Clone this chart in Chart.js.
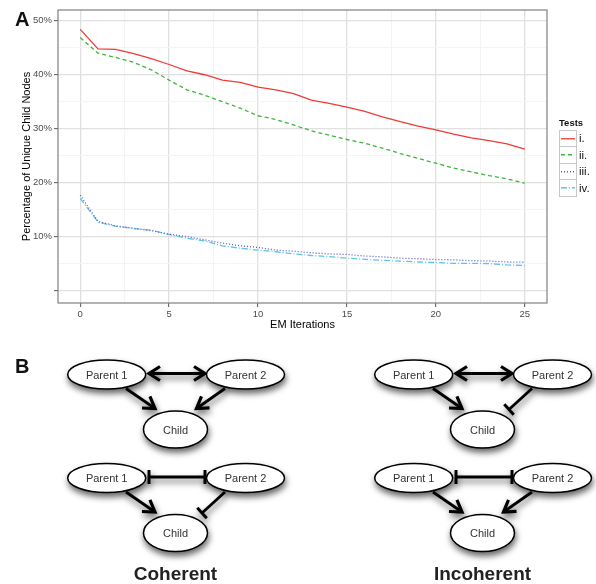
<!DOCTYPE html>
<html>
<head>
<meta charset="utf-8">
<script src="https://cdn.jsdelivr.net/npm/chart.js@4.4.1/dist/chart.umd.min.js"></script>
<style>
body{margin:0;background:#fff;font-family:"Liberation Sans",Arial,sans-serif;}
#page{position:relative;width:596px;height:584px;overflow:hidden;}
#chartBox{position:absolute;left:0;top:0;width:596px;height:340px;}
.panel{position:absolute;left:15px;font-weight:bold;font-size:20px;line-height:20px;color:#111;}
#legend{position:absolute;left:559px;top:116px;}
#legend .ttl{font-weight:bold;font-size:9.5px;height:14px;line-height:14px;color:#111;}
#legend .row{height:16.5px;display:flex;align-items:center;}
#legend .key{width:16px;height:15.5px;border:1px solid #c8c8c8;box-sizing:content-box;}
#legend .lab{font-size:11.5px;margin-left:2px;color:#111;}
#diagram{position:absolute;left:0;top:340px;}
</style>
</head>
<body>
<div id="page">
  <div id="chartBox"><canvas id="emChart" width="596" height="340"></canvas></div>
  <div class="panel" style="top:9px;">A</div>
  <div id="legend"></div>
  <div class="panel" style="top:356px;">B</div>
  <svg id="diagram" width="596" height="244" viewBox="0 340 596 244"></svg>
</div>
<script>
const FONT = '"Liberation Sans", Arial, sans-serif';

/* DATA */
const iterations = [0,1,2,3,4,5,6,7,8,9,10,11,12,13,14,15,16,17,18,19,20,21,22,23,24,25];
const testI   = [48.4,44.8,44.7,43.9,43.0,41.9,40.7,40.0,39.0,38.6,37.7,37.2,36.5,35.3,34.7,34.0,33.2,32.2,31.3,30.5,29.8,29.0,28.3,27.8,27.2,26.2];
const testII  = [46.9,44.0,43.2,42.3,40.9,39.0,37.2,36.2,35.0,33.8,32.4,31.7,30.7,29.6,28.8,28.0,27.3,26.4,25.4,24.5,23.6,22.7,22.0,21.3,20.7,19.9];
const testIII = [17.7,12.8,12.0,11.55,11.1,10.45,10.0,9.4,8.8,8.3,8.0,7.5,7.3,7.0,6.8,6.7,6.4,6.25,6.0,5.9,5.75,5.7,5.55,5.5,5.3,5.25];
const testIV  = [17.1,12.7,11.9,11.5,11.2,10.4,9.7,9.2,8.3,7.85,7.5,7.2,6.8,6.5,6.3,6.0,5.8,5.6,5.45,5.3,5.2,5.05,5.05,5.0,4.75,4.65];

const seriesNames  = ['i.','ii.','iii.','iv.'];
const seriesValues = [testI, testII, testIII, testIV];
const seriesColors = ['#ee3b36','#3db53d','#5a5ad2','#5cc5e2'];
const seriesDash   = [[], [4,3], [1,2], [6,2,1,2]];

const xTicks = [0,5,10,15,20,25];
const xMinor = [2.5,7.5,12.5,17.5,22.5];
const yTicks = [0,10,20,30,40,50];
const yTickLabels = ['','10%','20%','30%','40%','50%'];
const yMinor = [5,15,25,35,45];

const MAJOR = '#e0e0e0', MINOR = '#f4f4f4';

/* PANEL BORDER */
const panelBorder = {
    id: 'panelBorder',
    afterDatasetsDraw(chart){
        const {ctx, chartArea: a} = chart;
        ctx.save();
        ctx.strokeStyle = '#808080';
        ctx.lineWidth = 1.2;
        ctx.strokeRect(a.left, a.top, a.right - a.left, a.bottom - a.top);
        ctx.restore();
    }
};

function tickList(major, minor){
    return major.concat(minor).sort((p,q) => p - q).map(v => ({value: v}));
}

/* CHART */
new Chart(document.getElementById('emChart'), {
    type: 'line',
    data: {
        datasets: seriesValues.map((vals, i) => ({
            label: seriesNames[i],
            data: vals.map((v, k) => ({x: iterations[k], y: v})),
            borderColor: seriesColors[i],
            borderDash: seriesDash[i],
            borderWidth: 1.3,
            pointRadius: 0,
            tension: 0,
            fill: false
        }))
    },
    options: {
        responsive: false,
        animation: false,
        layout: {padding: {left: 0, top: 10, right: 49, bottom: 0}},
        plugins: {legend: {display: false}, tooltip: {enabled: false}},
        scales: {
            x: {
                type: 'linear', min: -1.25, max: 26.25,
                afterBuildTicks: a => { a.ticks = tickList(xTicks, xMinor); },
                afterFit: a => { a.height = 37; },
                border: {display: false},
                grid: {
                    color: c => xTicks.includes(c.tick.value) ? MAJOR : MINOR,
                    lineWidth: c => xTicks.includes(c.tick.value) ? 1.3 : 1,
                    tickLength: 4,
                    tickWidth: 1,
                    tickColor: c => xTicks.includes(c.tick.value) ? '#555' : 'rgba(0,0,0,0)'
                },
                ticks: {
                    autoSkip: false, maxRotation: 0, padding: 2,
                    color: '#4d4d4d', font: {family: FONT, size: 9.5},
                    callback: v => xTicks.includes(v) ? String(v) : ''
                },
                title: {display: true, text: 'EM Iterations', color: '#000',
                        font: {family: FONT, size: 11}, padding: {top: 0, bottom: 8}}
            },
            y: {
                min: -2.3, max: 52,
                afterBuildTicks: a => { a.ticks = tickList(yTicks, yMinor); },
                afterFit: a => { a.width = 58; },
                border: {display: false},
                grid: {
                    color: c => yTicks.includes(c.tick.value) ? MAJOR : MINOR,
                    lineWidth: c => yTicks.includes(c.tick.value) ? 1.3 : 1,
                    tickLength: 4,
                    tickWidth: 1,
                    tickColor: c => yTicks.includes(c.tick.value) ? '#555' : 'rgba(0,0,0,0)'
                },
                ticks: {
                    autoSkip: false, padding: 2,
                    color: '#4d4d4d', font: {family: FONT, size: 9.5},
                    callback: v => { const k = yTicks.indexOf(v); return k >= 0 ? yTickLabels[k] : ''; }
                },
                title: {display: true, text: 'Percentage of Unique Child Nodes', color: '#000',
                        font: {family: FONT, size: 11}, padding: {top: 20, bottom: 0}}
            }
        }
    },
    plugins: [panelBorder]
});

/* LEGEND */
let html = '<div class="ttl">Tests</div>';
seriesNames.forEach((n, i) => {
    html += `<div class="row"><div class="key"><svg width="16" height="15.5">
        <line x1="1" y1="7.75" x2="15" y2="7.75" stroke="${seriesColors[i]}" stroke-width="1.3"
        stroke-dasharray="${seriesDash[i].join(',') || 'none'}"/></svg></div><span class="lab">${n}</span></div>`;
});
document.getElementById('legend').innerHTML = html;

/* DIAGRAM B */
const NS = 'http://www.w3.org/2000/svg';
const svg = document.getElementById('diagram');

function el(tag, attrs, parent, text){
    const e = document.createElementNS(NS, tag);
    for (const k in attrs) e.setAttribute(k, attrs[k]);
    if (text) e.textContent = text;
    (parent || svg).appendChild(e);
    return e;
}

const defs = el('defs', {});
const flt = el('filter', {id: 'ds', x: '-20%', y: '-20%', width: '140%', height: '170%'}, defs);
el('feDropShadow', {dx: 1, dy: 4, stdDeviation: 3, 'flood-color': '#000', 'flood-opacity': 0.6}, flt);

// head at (x,y) pointing along (ux,uy)
function head(g, x, y, ux, uy, type){
    const px = -uy, py = ux;
    if (type === 'arrow'){
        const L = 11, W = 7;
        el('path', {d: `M${x - ux*L + px*W},${y - uy*L + py*W} L${x},${y} L${x - ux*L - px*W},${y - uy*L - py*W}`,
            fill: 'none', stroke: '#000', 'stroke-width': 3.2, 'stroke-linejoin': 'miter'}, g);
    } else if (type === 'bar'){
        const H = 7;
        el('line', {x1: x + px*H, y1: y + py*H, x2: x - px*H, y2: y - py*H, stroke: '#000', 'stroke-width': 3}, g);
    }
}

function link(g, x1, y1, x2, y2, startHead, endHead){
    const len = Math.hypot(x2 - x1, y2 - y1), ux = (x2 - x1)/len, uy = (y2 - y1)/len;
    el('line', {x1, y1, x2, y2, stroke: '#000', 'stroke-width': 2.8}, g);
    if (startHead) head(g, x1, y1, -ux, -uy, startHead);
    if (endHead) head(g, x2, y2, ux, uy, endHead);
}

function node(g, cx, cy, rx, ry, label){
    el('ellipse', {cx, cy, rx, ry, fill: '#fff', stroke: '#000', 'stroke-width': 1.5}, g);
    el('text', {x: cx, y: cy, 'text-anchor': 'middle', 'dominant-baseline': 'central',
        'font-family': FONT, 'font-size': 11, fill: '#333'}, g, label);
}

const motifs = [
    {dx: 0,   title: 'Coherent',   rows: [{between: 'arrow', p1: 'arrow', p2: 'arrow'}, {between: 'bar', p1: 'arrow', p2: 'bar'}]},
    {dx: 307, title: 'Incoherent', rows: [{between: 'arrow', p1: 'arrow', p2: 'bar'},   {between: 'bar', p1: 'arrow', p2: 'arrow'}]}
];
const rowY = [374.5, 478];

motifs.forEach(m => {
    const g = el('g', {filter: 'url(#ds)'});
    m.rows.forEach((r, i) => {
        const py = rowY[i], cyc = py + 55;
        link(g, 149 + m.dx, py - 1, 205 + m.dx, py - 1, r.between, r.between);
        link(g, 126 + m.dx, py + 14, 155 + m.dx, py + 34, null, r.p1);
        if (r.p2 === 'bar') link(g, 225 + m.dx, py + 14, 202 + m.dx, py + 35, null, 'bar');
        else link(g, 225 + m.dx, py + 14, 196.5 + m.dx, py + 34, null, 'arrow');
        node(g, 106.7 + m.dx, py, 39, 14.5, 'Parent 1');
        node(g, 245.5 + m.dx, py, 39, 14.5, 'Parent 2');
        node(g, 175.5 + m.dx, cyc, 32, 18.5, 'Child');
    });
    el('text', {x: 175.5 + m.dx, y: 580, 'text-anchor': 'middle', 'font-family': FONT,
        'font-size': 19, 'font-weight': 'bold', fill: '#222'}, null, m.title);
});
</script>
</body>
</html>
